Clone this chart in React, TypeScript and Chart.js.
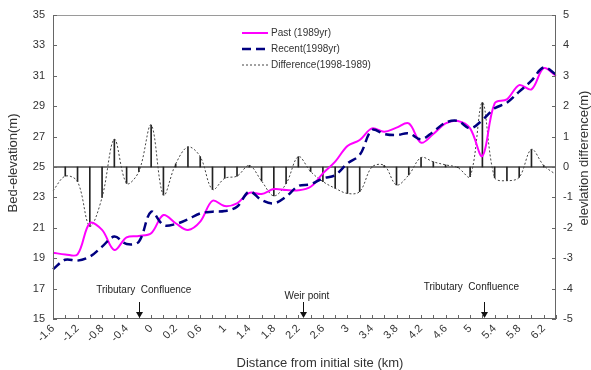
import React, { useEffect, useRef } from 'react';
import { Chart, registerables } from 'chart.js';

Chart.register(...registerables);

// Distance from initial site (km) — category labels
const distances = ['-1.6','-1.4','-1.2','-1','-0.8','-0.6','-0.4','-0.2','0','0.1','0.2','0.4','0.6','0.8','1','1.2','1.4','1.6','1.8','2','2.2','2.4','2.6','2.8','3','3.2','3.4','3.6','3.8','4','4.2','4.4','4.6','4.8','5','5.2','5.4','5.6','5.8','6','6.2','6.4'];

// Bed elevation (m), 1989
const past = [19.36,19.25,19.25,21.3,20.86,19.54,20.37,20.46,20.64,21.84,21.3,20.86,21.4,22.78,22.43,22.61,23.3,23.22,23.55,23.49,23.47,23.7,24.58,25.35,26.38,26.78,27.54,27.32,27.59,27.87,26.6,27.17,27.87,28.03,27.54,25.72,29.19,29.45,30.39,30.11,31.5,31.0];

// Bed elevation (m), 1998
const recent = [18.27,18.9,18.84,19.1,19.76,20.42,19.93,20.09,22.06,21.18,21.25,21.56,21.95,22.06,22.1,22.39,23.38,22.83,22.61,23.05,23.75,23.86,24.25,24.47,25.24,25.79,27.43,27.17,27.1,27.21,26.82,27.32,27.92,28.03,27.54,28.09,28.86,29.23,29.96,30.68,31.55,31.1];

// Elevation difference (m), 1998-1989
const difference = [-0.78,-0.3,-0.48,-1.95,-1.0,0.91,-0.54,-0.15,1.38,-0.92,0.1,0.66,0.34,-0.74,-0.37,-0.3,0.05,-0.46,-0.95,-0.55,0.34,-0.15,-0.48,-0.7,-0.87,-0.81,0.0,0.05,-0.59,-0.26,0.31,0.17,0.07,-0.02,-0.32,2.12,-0.35,-0.45,-0.34,0.58,0.05,-0.25];

const leftTicks = [15,17,19,21,23,25,27,29,31,33,35];
const rightTicks = [-5,-4,-3,-2,-1,0,1,2,3,4,5];

// annotation arrows: category index of the arrow, index of the text centre, text elevation (left axis)
const annotations = [
  { text: 'Tributary  Confluence', arrowAt: 7.0, textAt: 7.4, textLevel: 16.9 },
  { text: 'Weir point', arrowAt: 20.4, textAt: 20.7, textLevel: 16.5 },
  { text: 'Tributary  Confluence', arrowAt: 35.1, textAt: 34.1, textLevel: 17.1 },
];

const seriesNames = ['Past (1989yr)', 'Recent(1998yr)', 'Difference(1998-1989)'];

const FONT = '"Liberation Sans", Arial, sans-serif';

const framePlugin = {
  id: 'frame',
  beforeDatasetsDraw(chart: any) {
    const { ctx, chartArea: a, scales } = chart;
    const z = scales.y2.getPixelForValue(0);
    ctx.save();
    ctx.strokeStyle = '#7a7a7a';
    ctx.lineWidth = 2;
    ctx.beginPath();
    ctx.moveTo(a.left, z);
    ctx.lineTo(a.right, z);
    ctx.stroke();
    ctx.restore();
  },
  afterDraw(chart: any) {
    const { ctx, chartArea: a, scales } = chart;
    const x = scales.x, y = scales.y, y2 = scales.y2;
    ctx.save();
    // frame
    ctx.lineWidth = 1;
    ctx.strokeStyle = '#9a9a9a';
    ctx.beginPath();
    ctx.moveTo(a.left, a.top + 0.5);
    ctx.lineTo(a.right, a.top + 0.5);
    ctx.stroke();
    ctx.strokeStyle = '#666';
    ctx.beginPath();
    ctx.moveTo(a.left + 0.5, a.top);
    ctx.lineTo(a.left + 0.5, a.bottom);
    ctx.moveTo(a.right - 0.5, a.top);
    ctx.lineTo(a.right - 0.5, a.bottom);
    ctx.moveTo(a.left, a.bottom - 0.5);
    ctx.lineTo(a.right, a.bottom - 0.5);
    ctx.stroke();
    // inner tick marks
    ctx.beginPath();
    leftTicks.forEach(v => {
      const py = Math.round(y.getPixelForValue(v)) + 0.5;
      ctx.moveTo(a.left, py); ctx.lineTo(a.left + 4, py);
    });
    rightTicks.forEach(v => {
      const py = Math.round(y2.getPixelForValue(v)) + 0.5;
      ctx.moveTo(a.right, py); ctx.lineTo(a.right - 4, py);
    });
    distances.forEach((_, i) => {
      const px = Math.round(x.getPixelForValue(i)) + 0.5;
      ctx.moveTo(px, a.bottom); ctx.lineTo(px, a.bottom - 4);
    });
    ctx.stroke();

    // legend
    const lx0 = 242, lx1 = 268, rows = [33, 49, 65];
    ctx.font = `10px ${FONT}`;
    ctx.fillStyle = '#333';
    ctx.textBaseline = 'middle';
    ctx.textAlign = 'left';
    const styles = [
      { c: '#ff00ff', w: 2, d: [] as number[] },
      { c: '#000080', w: 2.5, d: [9, 5] },
      { c: '#444', w: 1, d: [2, 2] },
    ];
    rows.forEach((ry, k) => {
      ctx.save();
      ctx.strokeStyle = styles[k].c;
      ctx.lineWidth = styles[k].w;
      ctx.setLineDash(styles[k].d);
      ctx.beginPath();
      ctx.moveTo(lx0, ry); ctx.lineTo(lx1, ry);
      ctx.stroke();
      ctx.restore();
      ctx.fillText(seriesNames[k], lx1 + 3, ry);
    });

    // annotations
    ctx.font = `10px ${FONT}`;
    ctx.textAlign = 'center';
    annotations.forEach(an => {
      ctx.fillStyle = '#222';
      const tx = x.getPixelForValue(an.textAt);
      const ty = y.getPixelForValue(an.textLevel);
      ctx.fillText(an.text, tx, ty);
      const ax = Math.round(x.getPixelForValue(an.arrowAt)) + 0.5;
      ctx.strokeStyle = '#111';
      ctx.lineWidth = 1;
      ctx.beginPath();
      ctx.moveTo(ax, a.bottom - 17);
      ctx.lineTo(ax, a.bottom - 5);
      ctx.stroke();
      ctx.fillStyle = '#111';
      ctx.beginPath();
      ctx.moveTo(ax - 3.5, a.bottom - 7);
      ctx.lineTo(ax + 3.5, a.bottom - 7);
      ctx.lineTo(ax, a.bottom - 1);
      ctx.closePath();
      ctx.fill();
    });

    // axis titles
    ctx.fillStyle = '#333';
    ctx.font = `13px ${FONT}`;
    ctx.textAlign = 'center';
    ctx.textBaseline = 'middle';
    ctx.save();
    ctx.translate(13, 163);
    ctx.rotate(-Math.PI / 2);
    ctx.fillText('Bed-elevation(m)', 0, 0);
    ctx.restore();
    ctx.save();
    ctx.translate(584, 158);
    ctx.rotate(-Math.PI / 2);
    ctx.fillText('elevlation difference(m)', 0, 0);
    ctx.restore();
    ctx.fillText('Distance from initial site (km)', 320, 363);
    ctx.restore();
  },
};

export default function App() {
  const ref = useRef<HTMLCanvasElement | null>(null);
  useEffect(() => {
    document.body.style.margin = '0';
    const canvas = ref.current;
    if (!canvas) return;
    const chart = new Chart(canvas, {
      type: 'line',
      data: {
        labels: distances,
        datasets: [
          {
            label: seriesNames[0],
            data: past,
            yAxisID: 'y',
            borderColor: '#ff00ff',
            borderWidth: 2,
            pointRadius: 0,
            tension: 0.35,
            fill: false,
            order: 1,
          },
          {
            label: seriesNames[1],
            data: recent,
            yAxisID: 'y',
            borderColor: '#000080',
            borderWidth: 2.5,
            borderDash: [9, 5],
            pointRadius: 0,
            tension: 0.35,
            fill: false,
            order: 0,
          },
          {
            label: seriesNames[2],
            data: difference,
            yAxisID: 'y2',
            borderColor: '#444',
            borderWidth: 1,
            borderDash: [2, 2],
            pointRadius: 0,
            tension: 0.35,
            fill: false,
            order: 2,
          },
          {
            type: 'bar' as const,
            label: 'drop',
            data: difference,
            yAxisID: 'y2',
            backgroundColor: '#222',
            borderWidth: 0,
            barThickness: 1,
            order: 3,
          } as any,
        ],
      },
      options: {
        animation: false,
        responsive: true,
        maintainAspectRatio: false,
        layout: { padding: { top: 15, left: 0, right: 0, bottom: 0 } },
        plugins: { legend: { display: false }, tooltip: { enabled: false } },
        scales: {
          x: {
            type: 'category',
            offset: false,
            grid: { display: false, drawTicks: false },
            border: { display: false },
            ticks: {
              autoSkip: false,
              maxRotation: 45,
              minRotation: 45,
              padding: 3,
              color: '#333',
              font: { family: FONT, size: 11 },
              callback: (_v: any, i: number) => (i % 2 === 0 ? distances[i] : ''),
            },
            afterFit: (s: any) => { s.height = 51; },
          },
          y: {
            position: 'left',
            min: 15,
            max: 35,
            grid: { display: false, drawTicks: false },
            border: { display: false },
            ticks: {
              stepSize: 2,
              padding: 8,
              color: '#333',
              font: { family: FONT, size: 11 },
            },
            afterFit: (s: any) => { s.width = 53; },
          },
          y2: {
            position: 'right',
            min: -5,
            max: 5,
            grid: { display: false, drawTicks: false },
            border: { display: false },
            ticks: {
              stepSize: 1,
              padding: 7,
              color: '#333',
              font: { family: FONT, size: 11 },
            },
            afterFit: (s: any) => { s.width = 35; },
          },
        },
      },
      plugins: [framePlugin],
    });
    return () => chart.destroy();
  }, []);
  return (
    <div style={{ position: 'relative', width: 591, height: 370 }}>
      <canvas ref={ref} />
    </div>
  );
}
